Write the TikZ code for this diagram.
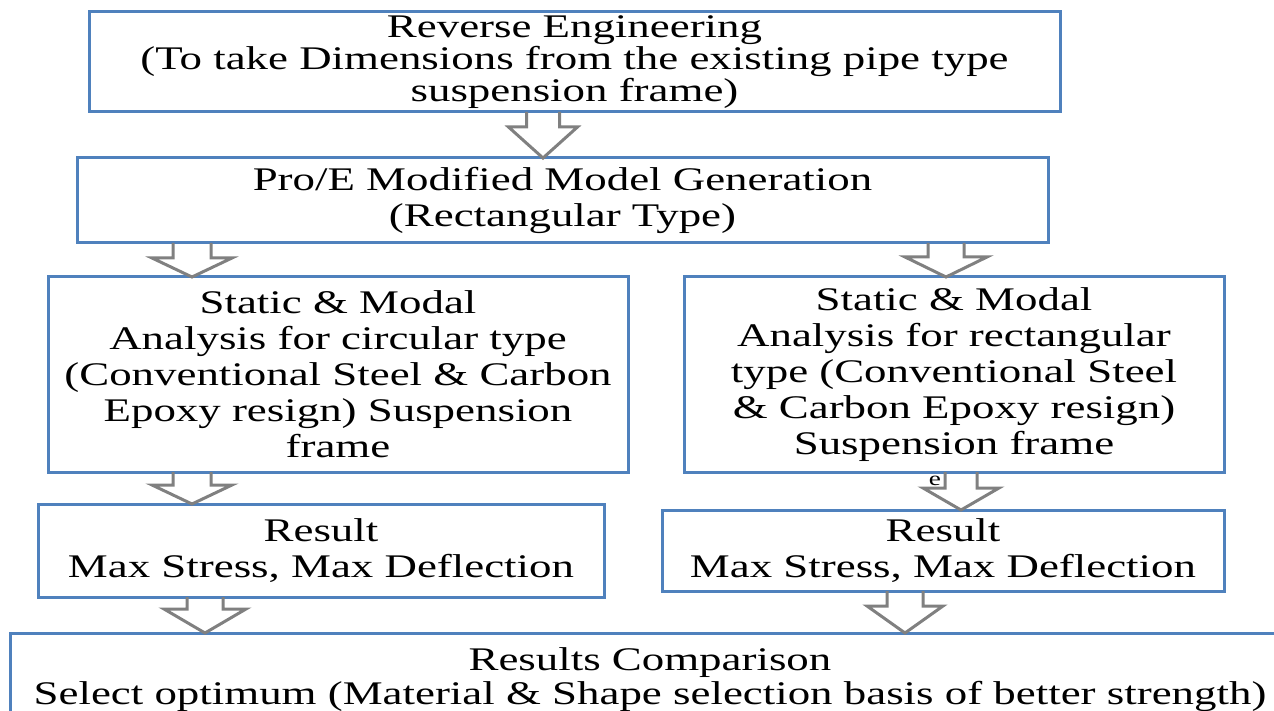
\documentclass[tikz,border=0pt]{standalone}
\usepackage{fontspec}
\setmainfont{Liberation Serif}[FakeStretch=1.36]
\usetikzlibrary{calc}
\definecolor{boxblue}{RGB}{79,129,189}
\definecolor{arrgray}{RGB}{128,128,128}
\tikzset{
  flowbox/.style={draw=boxblue, line width=3pt, rectangle, align=center,
    anchor=north west, inner sep=0pt, outer sep=0pt, text=black,
    font=\fontsize{33}{36}\selectfont},
  hollowarrow/.style={draw=arrgray, line width=3pt, line join=miter},
}
% #1 from node, #2 to node, #3 x centre, #4 shaft half width, #5 head half width, #6 head height
\newcommand\blockdown[6]{%
  \draw[hollowarrow] let \p1=(#1.south), \p2=(#2.north) in
    ({(#3-#4)*1pt},\y1) -- ({(#3-#4)*1pt},{\y2+#6*1pt}) -- ({(#3-#5)*1pt},{\y2+#6*1pt})
    -- ({#3*1pt},\y2) -- ({(#3+#5)*1pt},{\y2+#6*1pt}) -- ({(#3+#4)*1pt},{\y2+#6*1pt})
    -- ({(#3+#4)*1pt},\y1);}
\begin{document}
\begin{tikzpicture}[x=1pt,y=-1pt]
\useasboundingbox (0,0) rectangle (1274,711);
\clip (0,0) rectangle (1274,711);
\node[flowbox, minimum width=971, minimum height=100, font=\fontsize{33}{32}\selectfont] (rev) at (89,12)
  {Reverse Engineering\\(To take Dimensions from the existing pipe type\\suspension frame)};
\node[flowbox, minimum width=971, minimum height=85] (pro) at (77,158)
  {Pro/E Modified Model Generation\\(Rectangular Type)};
\node[flowbox, minimum width=580, minimum height=195] (circ) at (48,277)
  {Static \& Modal\\Analysis for circular type\\(Conventional Steel \& Carbon\\Epoxy resign) Suspension\\frame};
\node[flowbox, minimum width=540, minimum height=195] (rect) at (684,277)
  {Static \& Modal\\Analysis for rectangular\\type (Conventional Steel\\\& Carbon Epoxy resign)\\Suspension frame};
\node[flowbox, minimum width=566, minimum height=93] (resl) at (38,504)
  {Result\\Max Stress, Max Deflection};
\node[flowbox, minimum width=562, minimum height=81] (resr) at (662,510)
  {Result\\Max Stress, Max Deflection};
\node[flowbox, minimum width=1280, minimum height=94, font=\fontsize{33}{34}\selectfont] (comp) at (10,633)
  {Results Comparison\\Select optimum (Material \& Shape selection basis of better strength)};
\node[font=\fontsize{20}{20}\selectfont, inner sep=0pt] (stray) at (935,481) {e};
\blockdown{rev}{pro}{543}{16.5}{34.5}{31}
\blockdown{pro}{circ}{192}{19}{40}{19}
\blockdown{pro}{rect}{946}{18}{41}{20}
\blockdown{circ}{resl}{192}{19}{40}{19}
\blockdown{rect}{resr}{961}{16}{38}{22}
\blockdown{resl}{comp}{205}{18}{41}{24}
\blockdown{resr}{comp}{905}{18}{38}{27}
\end{tikzpicture}
\end{document}
